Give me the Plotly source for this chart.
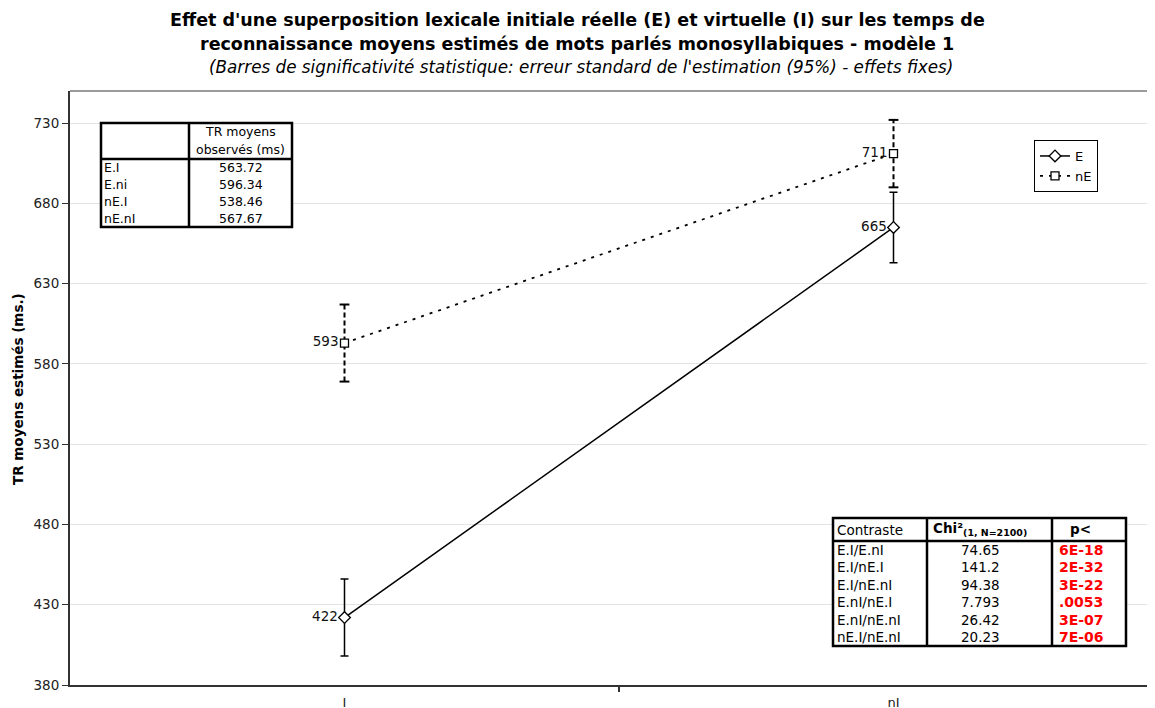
import plotly.graph_objects as go

# ---------------- data ----------------
categories = ["I", "nI"]
E_values = [422, 665]
E_err = [24, 22]
nE_values = [593, 711]
nE_err = [24, 21]

obs_header = ["TR moyens", "observés (ms)"]
obs_labels = ["E.I", "E.ni", "nE.I", "nE.nI"]
obs_means = ["563.72", "596.34", "538.46", "567.67"]

contrast_header = ["Contraste", "<b>Chi²<sub>(1, N=2100)</sub></b>", "<b>p<</b>"]
contrasts = ["E.I/E.nI", "E.I/nE.I", "E.I/nE.nI", "E.nI/nE.I", "E.nI/nE.nI", "nE.I/nE.nI"]
chi2 = ["74.65", "141.2", "94.38", "7.793", "26.42", "20.23"]
p_values = ["6E-18", "2E-32", "3E-22", ".0053", "3E-07", "7E-06"]

y_ticks = [380, 430, 480, 530, 580, 630, 680, 730]

# ---------------- layout geometry ----------------
# the page body has an 8px default margin; the figure is sized so it fills the window exactly
OFF = 8
W, H = 1155 - OFF, 708 - OFF
PLOT_L, PLOT_T, PLOT_B = 70, 91, 685   # page pixel positions of the plot area
ML = PLOT_L - OFF
MT = PLOT_T - OFF
MB = 708 - PLOT_B
MR = 0
PW = W - ML - MR
PH = H - MT - MB
FONT = "DejaVu Sans, Verdana, sans-serif"


def px(x):
    return (x - PLOT_L) / PW


def py(y):
    return (PLOT_B - y) / PH


x_pos = list(range(len(categories)))
cat_px = 549.0  # pixels per category
x_range = [-0.5, -0.5 + PW / cat_px]

fig = go.Figure()

# nE dashed error bars (drawn from values +/- errors)
ex, ey = [], []
cx, cy = [], []
for i, (v, e) in enumerate(zip(nE_values, nE_err)):
    ex += [x_pos[i], x_pos[i], None]
    ey += [v - e, v + e, None]
    cx += [x_pos[i], x_pos[i]]
    cy += [v - e, v + e]
fig.add_trace(go.Scatter(x=ex, y=ey, mode="lines", showlegend=False, hoverinfo="skip",
                         line=dict(color="black", width=2, dash="5px,3px")))
fig.add_trace(go.Scatter(x=cx, y=cy, mode="markers", showlegend=False, hoverinfo="skip",
                         marker=dict(symbol="line-ew", size=7, color="black",
                                     line=dict(color="black", width=2))))

# E series
fig.add_trace(go.Scatter(
    x=x_pos, y=E_values, name="E", mode="lines+markers+text",
    text=[str(v) for v in E_values], textposition="middle left",
    textfont=dict(family=FONT, size=13.5, color="#111"),
    line=dict(color="black", width=1.5),
    marker=dict(symbol="diamond", size=9, color="white", line=dict(color="black", width=1.3)),
    error_y=dict(type="data", array=E_err, color="black", thickness=1.5, width=4),
))

# nE series
fig.add_trace(go.Scatter(
    x=x_pos, y=nE_values, name="nE", mode="lines+markers+text",
    text=[str(v) for v in nE_values], textposition="middle left",
    textfont=dict(family=FONT, size=13.5, color="#111"),
    line=dict(color="black", width=1.8, dash="3px,6px"),
    marker=dict(symbol="square", size=8, color="white", line=dict(color="black", width=1.3)),
))

shapes = []
annotations = []

# plot-area top border
shapes.append(dict(type="line", xref="paper", yref="paper", x0=0, x1=1, y0=1, y1=1,
                   line=dict(color="#9a9a9a", width=2)))

# ---------------- titles ----------------
annotations += [
    dict(text="<b>Effet d'une superposition lexicale initiale réelle (E) et virtuelle (I) sur les temps de</b>",
         x=px(577), y=py(20), font=dict(family=FONT, size=17.5, color="black")),
    dict(text="<b>reconnaissance moyens estimés de mots parlés monosyllabiques - modèle 1</b>",
         x=px(577), y=py(44), font=dict(family=FONT, size=17.5, color="black")),
    dict(text="<i>(Barres de significativité statistique: erreur standard de l'estimation (95%) - effets fixes)</i>",
         x=px(581), y=py(67), font=dict(family=FONT, size=16.8, color="black")),
    dict(text="<b>TR moyens estimés (ms.)</b>", textangle=-90,
         x=px(18), y=py(389), font=dict(family=FONT, size=13.5, color="black")),
]
for a in annotations:
    a.update(xref="paper", yref="paper", showarrow=False, xanchor="center", yanchor="middle")


def add_text(text, x, y, align="center", size=12, color="black"):
    annotations.append(dict(text=text, x=px(x), y=py(y), xref="paper", yref="paper",
                            showarrow=False, xanchor=align, yanchor="middle",
                            font=dict(family=FONT, size=size, color=color)))


def add_line(x0, y0, x1, y1, w=2.5):
    shapes.append(dict(type="line", xref="paper", yref="paper", x0=px(x0), x1=px(x1),
                       y0=py(y0), y1=py(y1), line=dict(color="black", width=w)))


# ---------------- table 1 (observed means) ----------------
t1_x0, t1_x1, t1_xc = 101, 292, 189
t1_y0, t1_yh, t1_y1 = 123, 159, 227
shapes.append(dict(type="rect", xref="paper", yref="paper", x0=px(t1_x0), x1=px(t1_x1),
                   y0=py(t1_y1), y1=py(t1_y0), fillcolor="white", line=dict(color="black", width=2.5)))
add_line(t1_xc, t1_y0, t1_xc, t1_y1)
add_line(t1_x0, t1_yh, t1_x1, t1_yh)
add_text(obs_header[0], 240, 132, size=12.5)
add_text(obs_header[1], 240, 149, size=12.5)
row_h1 = (t1_y1 - t1_yh) / len(obs_labels)
for i, (lab, val) in enumerate(zip(obs_labels, obs_means)):
    yc = t1_yh + row_h1 * (i + 0.5)
    add_text(lab, 102, yc, align="left", size=12.5)
    add_text(val, 241, yc, size=12.5)

# ---------------- table 2 (contrasts) ----------------
t2_x0, t2_x1, t2_xc1, t2_xc2 = 833, 1126, 927, 1052
t2_y0, t2_yh, t2_y1 = 518, 541, 646
shapes.append(dict(type="rect", xref="paper", yref="paper", x0=px(t2_x0), x1=px(t2_x1),
                   y0=py(t2_y1), y1=py(t2_y0), fillcolor="white", line=dict(color="black", width=2.5)))
for xc in (t2_xc1, t2_xc2):
    add_line(xc, t2_y0, xc, t2_y1)
add_line(t2_x0, t2_yh, t2_x1, t2_yh)
add_text(contrast_header[0], 835, 530, align="left", size=13.5)
add_text(contrast_header[1], 980, 529, size=13.5)
add_text(contrast_header[2], 1080, 529, size=13.5)
row_h2 = (t2_y1 - t2_yh) / len(contrasts)
for i, (c, ch, p) in enumerate(zip(contrasts, chi2, p_values)):
    yc = t2_yh + row_h2 * (i + 0.5)
    add_text(c, 835, yc, align="left", size=13.5)
    add_text(ch, 980, yc, size=13.5)
    add_text("<b>" + p + "</b>", 1081, yc, size=14, color="#ff0000")

fig.update_layout(
    width=W, height=H,
    margin=dict(l=ML, r=MR, t=MT, b=MB, pad=0, autoexpand=False),
    paper_bgcolor="white", plot_bgcolor="white",
    font=dict(family=FONT, size=12, color="#222"),
    showlegend=True,
    legend=dict(x=px(1034), y=py(140), xanchor="left", yanchor="top",
                bgcolor="white", bordercolor="black", borderwidth=1,
                font=dict(family=FONT, size=13, color="black"),
                itemwidth=30, tracegroupgap=0),
    shapes=shapes, annotations=annotations,
    xaxis=dict(range=x_range, tickmode="array", tickvals=x_pos, ticktext=categories,
               ticks="outside", ticklen=4, tickcolor="rgba(0,0,0,0)",
               showgrid=False, zeroline=False, automargin=False,
               showline=True, linecolor="#333", linewidth=2,
               tickfont=dict(family=FONT, size=13, color="#222"),
               minor=dict(tickmode="array", tickvals=[0.5], ticks="outside", ticklen=5,
                          tickwidth=2, tickcolor="#333", showgrid=False)),
    yaxis=dict(range=[380, 750], tickmode="array", tickvals=y_ticks,
               ticks="outside", ticklen=6, tickwidth=1, tickcolor="#333",
               showgrid=True, gridcolor="#e3e3e3", gridwidth=1, zeroline=False,
               automargin=False,
               showline=True, linecolor="#333", linewidth=2,
               tickfont=dict(family=FONT, size=13.5, color="#222")),
)

fig.write_html("out.html")
